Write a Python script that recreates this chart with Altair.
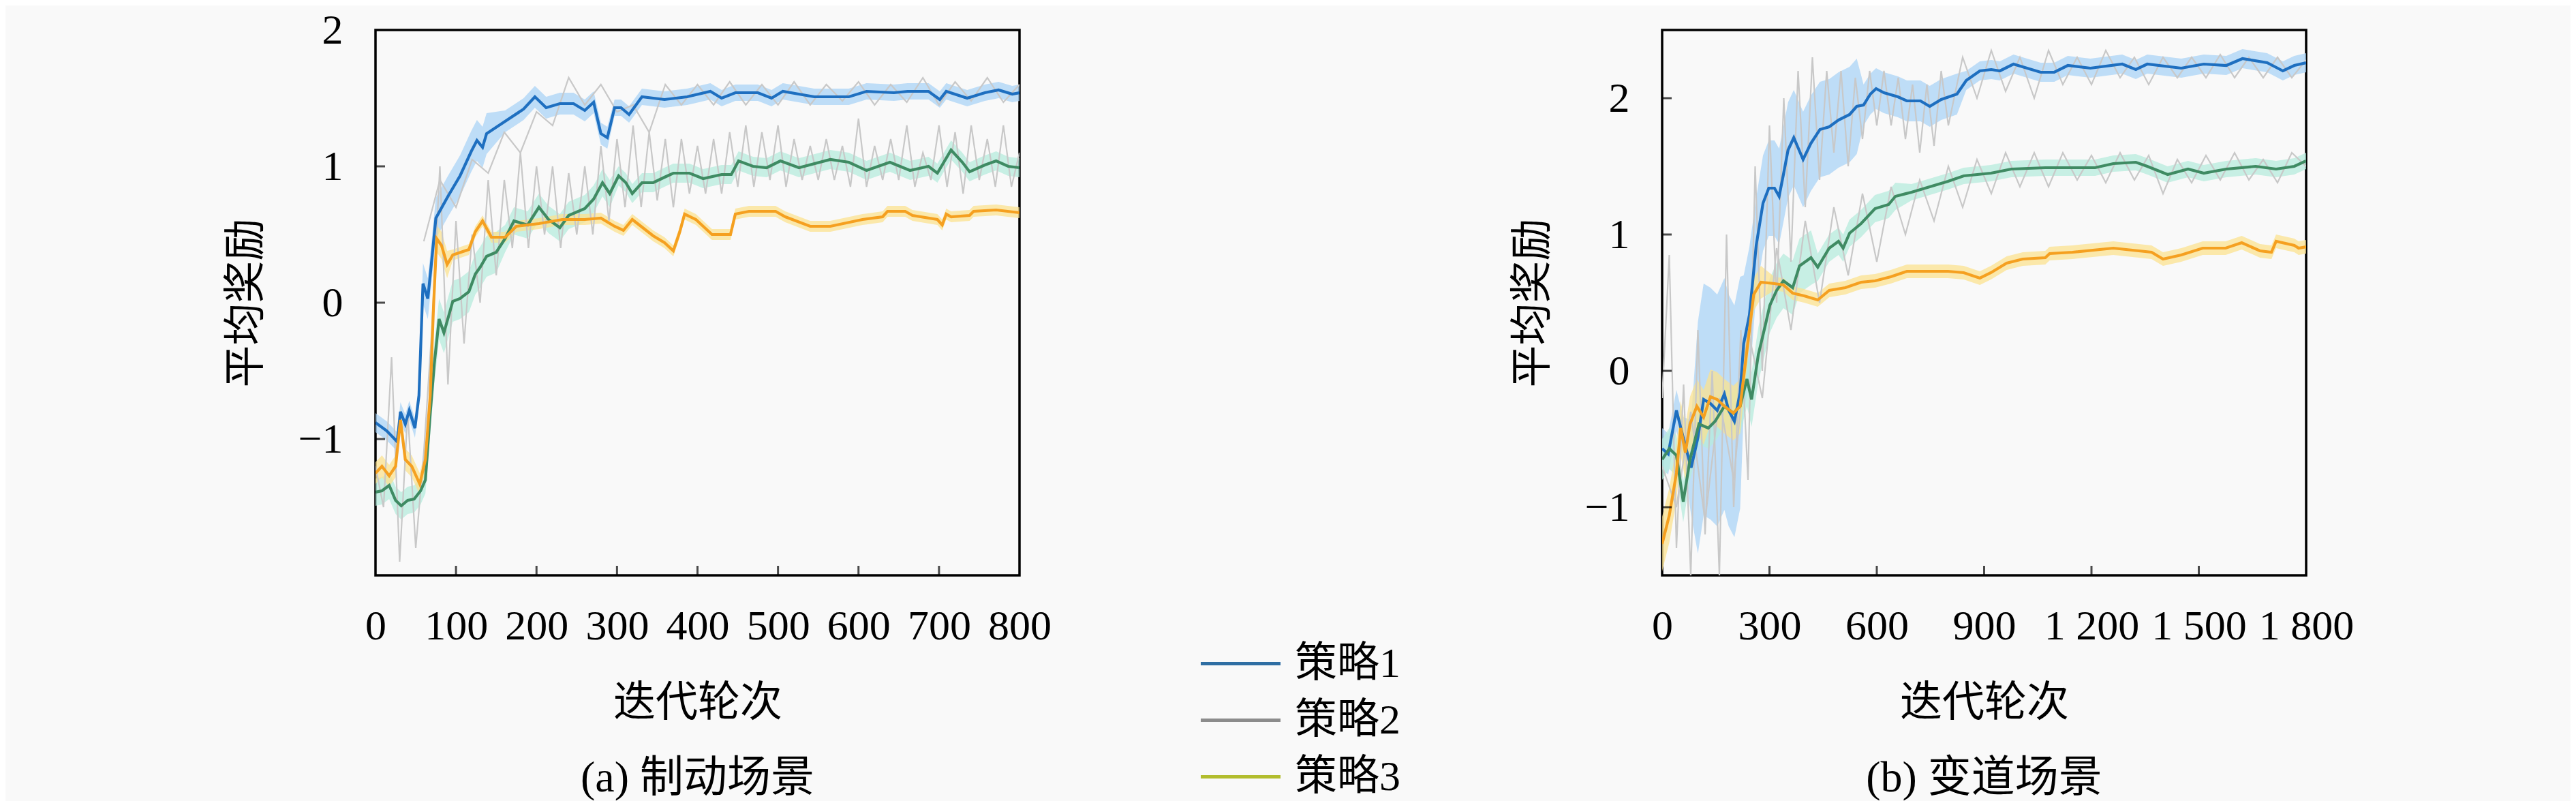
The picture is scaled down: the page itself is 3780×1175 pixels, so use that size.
import altair as alt
import pandas as pd

SERIF_CJK = "Liberation Serif, Noto Sans CJK SC"
CJK = "Noto Sans CJK SC"

NAMES = ["策略1", "策略2", "策略3"]
LEGEND_COLORS = ["#2f6ea3", "#8c8c8c", "#b2bd2e"]
LINE_COLORS = ["#1e6fc0", "#3f8b63", "#f5a020"]
BAND_COLORS = ["#a9d3f5", "#b5ebdc", "#fbe18f"]
RAW_COLOR = "#c8c8c8"

# ---------------- (a) 制动场景 ----------------
L1_x = [0, 14, 27, 31, 37, 42, 49, 54, 59, 65, 69, 75, 90, 105, 119, 126, 133, 138, 161, 184,
        198, 212, 229, 246, 260, 271, 280, 288, 297, 305, 315, 331, 359, 387, 416, 430, 447, 475, 492, 506,
        545, 588, 610, 644, 661, 687, 701, 709, 735, 757, 774, 791, 800]
L1_y = [-0.88, -0.94, -1.02, -0.80, -0.89, -0.79, -0.92, -0.68, 0.14, 0.03, 0.26, 0.62, 0.78, 0.93, 1.11, 1.19, 1.14, 1.24, 1.33, 1.42,
        1.51, 1.43, 1.46, 1.46, 1.41, 1.47, 1.24, 1.21, 1.43, 1.43, 1.38, 1.51, 1.49, 1.51, 1.55, 1.50, 1.54, 1.54, 1.50, 1.55,
        1.51, 1.51, 1.55, 1.54, 1.55, 1.55, 1.49, 1.55, 1.50, 1.54, 1.56, 1.53, 1.54]
L1_s = [0.07] * 8 + [0.15] * 10 + [0.08] * 10 + [0.06] * 25

L2_x = [0, 8, 17, 25, 32, 40, 48, 56, 62, 68, 73, 79, 85, 96, 105, 116, 124, 130, 138, 150,
        161, 172, 189, 203, 215, 229, 240, 260, 271, 282, 291, 302, 311, 319, 331, 345, 359, 370, 390, 407,
        430, 442, 451, 469, 486, 503, 526, 565, 588, 610, 639, 664, 687, 698, 715, 729, 738, 757, 771, 786, 800]
L2_y = [-1.39, -1.38, -1.34, -1.45, -1.49, -1.45, -1.44, -1.38, -1.30, -0.81, -0.45, -0.12, -0.22, 0.01, 0.03, 0.08, 0.21, 0.26, 0.34, 0.37,
        0.47, 0.60, 0.57, 0.70, 0.61, 0.55, 0.64, 0.69, 0.76, 0.88, 0.80, 0.93, 0.88, 0.80, 0.88, 0.88, 0.92, 0.95, 0.95, 0.91,
        0.94, 0.94, 1.04, 1.00, 0.99, 1.04, 0.99, 1.05, 1.03, 0.97, 1.03, 0.97, 1.00, 0.95, 1.12, 1.03, 0.96, 1.01, 1.04, 1.00, 0.99]
L2_s = [0.10] * 9 + [0.15] * 11 + [0.10] * 11 + [0.07] * 30

L3_x = [0, 8, 17, 25, 31, 37, 45, 55, 62, 68, 72, 76, 82, 89, 96, 116, 124, 133, 144, 161,
        175, 203, 232, 260, 280, 297, 308, 319, 345, 359, 370, 378, 384, 398, 418, 441, 447, 464, 497, 509,
        540, 565, 605, 630, 636, 658, 667, 698, 704, 709, 715, 738, 743, 771, 800]
L3_y = [-1.25, -1.20, -1.27, -1.20, -0.86, -1.15, -1.20, -1.33, -1.15, -0.68, -0.04, 0.47, 0.42, 0.28, 0.35, 0.39, 0.52, 0.60, 0.48, 0.48,
        0.56, 0.58, 0.61, 0.61, 0.62, 0.56, 0.53, 0.61, 0.49, 0.44, 0.38, 0.52, 0.65, 0.61, 0.50, 0.50, 0.65, 0.67, 0.67, 0.63,
        0.56, 0.56, 0.61, 0.63, 0.67, 0.67, 0.64, 0.61, 0.57, 0.65, 0.63, 0.64, 0.67, 0.68, 0.66]
L3_s = [0.08] * 10 + [0.10] * 4 + [0.04] * 41

# raw (unsmoothed) grey traces
LR2_x = list(range(0, 801, 10))
LR2_y = [-1.2, -1.5, -0.4, -1.9, -0.8, -1.8, -1.1, -0.2, 1.0, -0.6,
         0.6, -0.3, 0.5, 0.0, 0.9, 0.2, 0.9, 0.4, 1.1, 0.4,
         1.0, 0.5, 1.0, 0.4, 0.95, 0.5, 1.0, 0.5, 1.15, 0.6,
         1.2, 0.7, 1.3, 0.7, 1.25, 0.75, 1.2, 0.7, 1.2, 0.8,
         1.15, 0.8, 1.2, 0.8, 1.25, 0.85, 1.3, 0.85, 1.25, 0.9,
         1.3, 0.85, 1.2, 0.9, 1.15, 0.9, 1.2, 0.9, 1.15, 0.85,
         1.35, 0.85, 1.15, 0.9, 1.2, 0.9, 1.3, 0.85, 1.1, 0.9,
         1.3, 0.85, 1.25, 0.8, 1.3, 0.9, 1.2, 0.85, 1.3, 0.85,
         1.1]
LR1_x = list(range(60, 801, 20))
LR1_y = [0.45, 0.9, 0.7, 1.05, 0.95, 1.25, 1.1, 1.4, 1.3, 1.65,
         1.45, 1.6, 1.4, 1.45, 1.25, 1.6, 1.45, 1.6, 1.45, 1.62,
         1.45, 1.6, 1.45, 1.62, 1.45, 1.6, 1.48, 1.62, 1.45, 1.6,
         1.47, 1.65, 1.45, 1.62, 1.48, 1.65, 1.47, 1.6]

# ---------------- (b) 变道场景 ----------------
R1_x = [0, 17, 40, 59, 81, 100, 116, 135, 154, 174, 186, 202, 218, 228, 244, 263, 282, 298, 314, 327,
        339, 352, 368, 381, 394, 416, 441, 467, 493, 524, 544, 563, 582, 598, 620, 659, 684, 722, 748, 780,
        824, 850, 888, 920, 944, 982, 1020, 1058, 1096, 1134, 1197, 1286, 1324, 1356, 1451, 1514, 1577, 1622, 1691, 1735,
        1767, 1800]
R1_y = [-0.57, -0.61, -0.29, -0.49, -0.71, -0.49, -0.21, -0.24, -0.29, -0.17, -0.29, -0.37, -0.16, 0.20, 0.41, 0.92, 1.23, 1.34, 1.34, 1.28,
        1.44, 1.62, 1.71, 1.63, 1.55, 1.67, 1.77, 1.79, 1.84, 1.88, 1.94, 1.95, 2.03, 2.07, 2.04, 2.01, 1.98, 1.98, 1.94, 1.99,
        2.03, 2.13, 2.20, 2.21, 2.20, 2.25, 2.22, 2.19, 2.19, 2.24, 2.22, 2.25, 2.21, 2.25, 2.22, 2.25, 2.24, 2.29, 2.26, 2.20,
        2.24, 2.26]
R1_s = [0.15] * 4 + [0.35] + [0.85] * 8 + [0.5] * 2 + [0.35] * 16 + [0.15] * 10 + [0.07] * 21

R2_x = [0, 20, 40, 59, 78, 103, 129, 148, 174, 199, 218, 237, 250, 269, 288, 301, 320, 339, 365, 384,
        416, 435, 467, 493, 506, 524, 556, 595, 633, 652, 697, 748, 799, 843, 881, 919, 976, 1071, 1147, 1210,
        1261, 1324, 1356, 1413, 1470, 1514, 1577, 1659, 1716, 1767, 1800]
R2_y = [-0.65, -0.57, -0.62, -0.96, -0.65, -0.39, -0.42, -0.37, -0.26, -0.31, -0.26, -0.06, -0.21, 0.12, 0.33, 0.48, 0.59, 0.66, 0.61, 0.77,
        0.83, 0.76, 0.90, 0.95, 0.90, 1.01, 1.08, 1.19, 1.22, 1.28, 1.31, 1.35, 1.39, 1.43, 1.44, 1.45, 1.48, 1.49, 1.49, 1.49,
        1.52, 1.53, 1.50, 1.44, 1.48, 1.45, 1.48, 1.50, 1.48, 1.50, 1.54]
R2_s = [0.15] * 10 + [0.20] * 11 + [0.10] * 9 + [0.06] * 21

R3_x = [0, 20, 40, 52, 65, 78, 97, 116, 135, 154, 174, 199, 218, 237, 256, 276, 314, 339, 365, 397,
        435, 467, 512, 556, 595, 639, 684, 748, 799, 843, 888, 919, 963, 1008, 1071, 1083, 1147, 1261, 1368, 1400,
        1451, 1511, 1575, 1620, 1671, 1703, 1716, 1767, 1779, 1800]
R3_y = [-1.27, -1.06, -0.75, -0.42, -0.60, -0.39, -0.26, -0.34, -0.19, -0.21, -0.26, -0.31, -0.26, 0.15, 0.56, 0.65, 0.64, 0.63, 0.57, 0.55,
        0.52, 0.59, 0.61, 0.65, 0.66, 0.69, 0.73, 0.73, 0.73, 0.72, 0.68, 0.72, 0.79, 0.82, 0.83, 0.86, 0.87, 0.90, 0.87, 0.82,
        0.85, 0.90, 0.90, 0.94, 0.88, 0.87, 0.95, 0.92, 0.90, 0.91]
R3_s = [0.20] * 13 + [0.12] * 3 + [0.05] * 34

RR1_x = list(range(0, 801, 20)) + list(range(840, 1801, 40))
RR1_y = [-0.2, 0.85, -1.3, -0.1, -1.5, 0.3, -1.2, 0.0, -1.5, 1.0,
         -1.0, 0.3, -0.8, 1.5, 0.0, 1.8, 0.5, 2.0, 0.8, 2.2,
         1.2, 2.3, 1.4, 2.2, 1.6, 2.2, 1.5, 2.15, 1.7, 2.2,
         1.8, 2.2, 1.8, 2.15, 1.7, 2.1, 1.6, 2.1, 1.65, 2.2,
         1.8,
         2.3, 2.0, 2.35, 2.05, 2.3, 2.0, 2.35, 2.1, 2.3, 2.1,
         2.35, 2.15, 2.3, 2.1, 2.3, 2.15, 2.3, 2.15, 2.32, 2.15,
         2.3, 2.15, 2.3, 2.15, 2.28]
RR2_x = list(range(0, 1801, 40))
RR2_y = [-0.7, -1.0, -0.3, -1.1, -0.2, -0.8, 0.3, -0.2, 0.9, 0.3,
         1.1, 0.5, 1.2, 0.7, 1.3, 0.8, 1.35, 1.0, 1.4, 1.1,
         1.5, 1.2, 1.55, 1.3, 1.6, 1.35, 1.6, 1.35, 1.6, 1.4,
         1.58, 1.38, 1.6, 1.4, 1.58, 1.3, 1.55, 1.38, 1.58, 1.4,
         1.6, 1.4, 1.55, 1.38, 1.6, 1.5]

L_XTICKS = [0, 100, 200, 300, 400, 500, 600, 700, 800]
L_YTICKS = [-1, 0, 1, 2]
R_XTICKS = [0, 300, 600, 900, 1200, 1500, 1800]
R_YTICKS = [-1, 0, 1, 2]


def mk_df(x, y, s=None):
    d = {"iter": x, "reward": y}
    if s is not None:
        d["lo"] = [a - b for a, b in zip(y, s)]
        d["hi"] = [a + b for a, b in zip(y, s)]
    return pd.DataFrame(d)


def panel(series, raws, xdom, ydom, xticks, yticks, caption, label_expr=None, legend=False):
    xs = alt.Scale(domain=xdom, nice=False, zero=False)
    ys = alt.Scale(domain=ydom, nice=False, zero=False)
    xkw = dict(values=xticks, title="迭代轮次", ticks=False, domain=False, grid=False,
               labelFont="Liberation Serif", labelFontSize=62, labelPadding=44, labelColor="black",
               labelFlush=False, labelOverlap=False, labelBound=False, format="d",
               titleFont=CJK, titleFontSize=62, titleFontWeight="normal", titlePadding=52,
               titleColor="black")
    if label_expr:
        xkw["labelExpr"] = label_expr
    xaxis = alt.Axis(**xkw)
    yaxis = alt.Axis(values=yticks, title="平均奖励", ticks=False, domain=False, grid=False, format="d",
                     labelFont="Liberation Serif", labelFontSize=62, labelPadding=48, labelColor="black",
                     labelFlush=False, labelOverlap=False, labelBound=False,
                     titleFont=CJK, titleFontSize=62, titleFontWeight="normal", titlePadding=44,
                     titleColor="black")
    layers = []
    first = True
    for df, bc in zip(series, BAND_COLORS):
        if first:
            enc = dict(x=alt.X("iter:Q", scale=xs, axis=xaxis),
                       y=alt.Y("lo:Q", scale=ys, axis=yaxis), y2="hi:Q")
            first = False
        else:
            enc = dict(x="iter:Q", y="lo:Q", y2="hi:Q")
        layers.append(alt.Chart(df).mark_area(color=bc, opacity=0.75, clip=True).encode(**enc))
    for df in raws:
        layers.append(alt.Chart(df).mark_line(color=RAW_COLOR, strokeWidth=2.2, clip=True)
                      .encode(x="iter:Q", y="reward:Q"))
    for df, lc in zip(series, LINE_COLORS):
        layers.append(alt.Chart(df).mark_line(color=lc, strokeWidth=4.2, clip=True)
                      .encode(x="iter:Q", y="reward:Q"))
    inner_x = xticks[1:-1]
    layers.append(alt.Chart(pd.DataFrame({"t": inner_x})).mark_tick(
        orient="vertical", color="black", size=14, thickness=3, yOffset=-7)
        .encode(x="t:Q", y=alt.datum(ydom[0])))
    inner_y = [v for v in yticks if ydom[0] < v < ydom[1]]
    layers.append(alt.Chart(pd.DataFrame({"t": inner_y})).mark_tick(
        orient="horizontal", color="black", size=14, thickness=3, xOffset=7)
        .encode(y="t:Q", x=alt.datum(xdom[0])))
    if legend:
        ldf = pd.DataFrame({"name": NAMES, "iter": [0, 0, 0], "reward": [0, 0, 0]})
        layers.append(alt.Chart(ldf).transform_filter("false").mark_line().encode(
            x="iter:Q", y="reward:Q",
            color=alt.Color("name:N", scale=alt.Scale(domain=NAMES, range=LEGEND_COLORS),
                            legend=alt.Legend(title=None, orient="none", legendX=1208, legendY=888,
                                              symbolType="stroke", symbolSize=13700, symbolStrokeWidth=5,
                                              labelFont=SERIF_CJK, labelFontSize=62, labelColor="black",
                                              clipHeight=83, rowPadding=0, labelOffset=18, padding=0))))
    return alt.layer(*layers).properties(
        width=945, height=800,
        title=alt.TitleParams(caption, orient="bottom", anchor="middle", frame="group",
                              font=SERIF_CJK, fontSize=64, fontWeight="normal", color="black", offset=48))


left = panel([mk_df(L1_x, L1_y, L1_s), mk_df(L2_x, L2_y, L2_s), mk_df(L3_x, L3_y, L3_s)],
             [mk_df(LR2_x, LR2_y), mk_df(LR1_x, LR1_y)],
             [0, 800], [-2, 2], L_XTICKS, L_YTICKS, "(a) 制动场景", legend=True)
right = panel([mk_df(R1_x, R1_y, R1_s), mk_df(R2_x, R2_y, R2_s), mk_df(R3_x, R3_y, R3_s)],
              [mk_df(RR2_x, RR2_y), mk_df(RR1_x, RR1_y)],
              [0, 1800], [-1.5, 2.5], R_XTICKS, R_YTICKS, "(b) 变道场景",
              label_expr="datum.value >= 1000 ? replace(format(datum.value, ','), ',', ' ') : format(datum.value, 'd')")

chart = alt.hconcat(left, right, spacing=671).properties(
    padding={"left": 320, "top": 3, "right": 316, "bottom": 40},
    background="#f9f9f9",
).configure_view(stroke="black", strokeWidth=3.5)

chart.save("out.html", embed_options={"renderer": "svg", "actions": False})
